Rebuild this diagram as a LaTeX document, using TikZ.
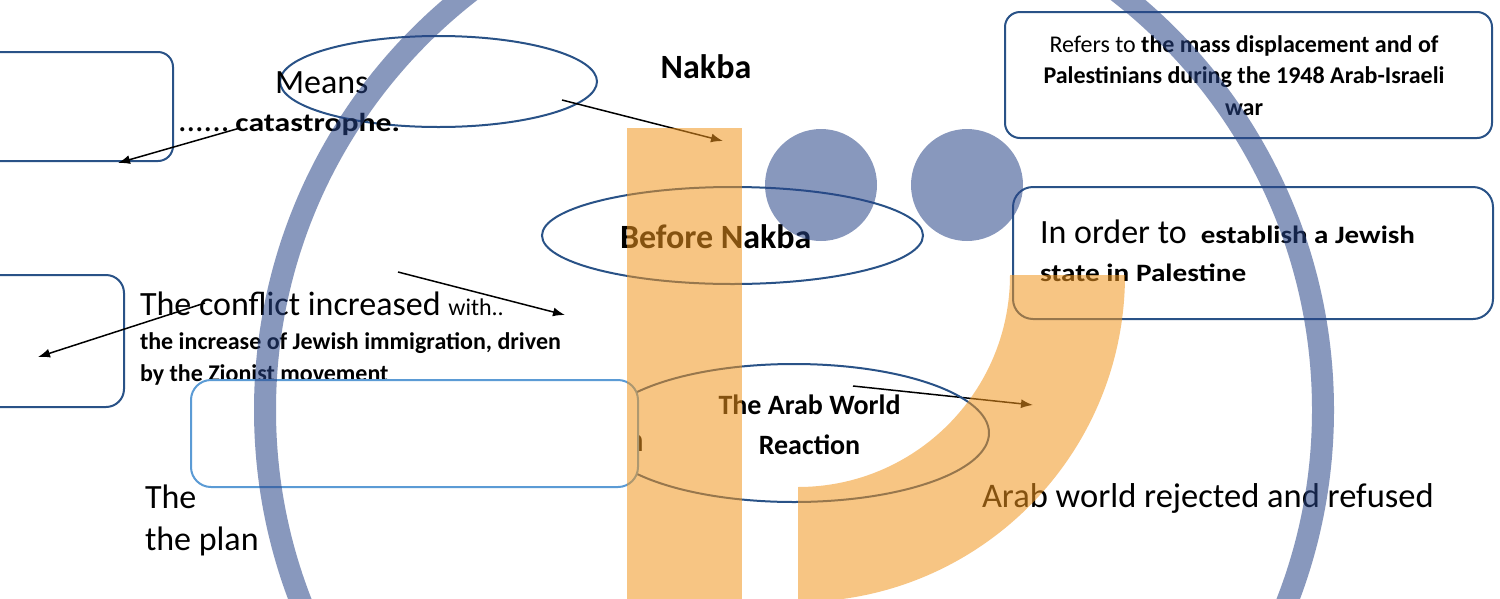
\documentclass[tikz,border=0pt]{standalone}
\usepackage{fontspec}
\setmainfont{Carlito}
\usetikzlibrary{shapes.geometric,arrows.meta}
\definecolor{boxblue}{RGB}{41,82,135}
\definecolor{lightbox}{RGB}{91,155,213}
\definecolor{ringblue}{RGB}{40,68,135}
\definecolor{orng}{RGB}{242,150,30}
\newcommand{\fs}[1]{\fontsize{#1}{#1}\selectfont}
\begin{document}
\begin{tikzpicture}[x=1pt,y=-1pt,
  darkbox/.style={draw=boxblue, line width=2pt, rounded corners=#1, inner sep=0pt},
  darkbox/.default=15pt,
  ell/.style={ellipse, draw=boxblue, line width=2pt, inner sep=0pt},
  txt/.style={inner sep=0pt, outer sep=0pt, text=black},
  conn/.style={draw=black, line width=1.5pt, -{Latex[length=12pt,width=9pt]}},
  overlayorange/.style={fill=orng, fill opacity=.55},
  overlayblue/.style={fill=ringblue, fill opacity=.55}]
\useasboundingbox (0,0) rectangle (1500,598);
\clip (0,0) rectangle (1500,598);
\fill[white] (0,0) rectangle (1500,598);

% boxes
\node[darkbox=15pt, minimum width=203pt, minimum height=109pt] (lbox1) at (71.5,106.5) {};
\node[darkbox=18pt, minimum width=164pt, minimum height=132pt] (lbox2) at (42,341) {};
\node[darkbox=15pt, minimum width=487pt, minimum height=126pt] (rbox) at (1248.5,75) {};
\node[darkbox=20pt, minimum width=480pt, minimum height=132pt] (obox) at (1253,253) {};

% ellipses
\node[ell, minimum width=317pt, minimum height=91pt] (meansell) at (438.5,81.5) {};
\node[ell, minimum width=381pt, minimum height=97pt] (beforeell) at (732.5,235.5) {};

% texts
\node[txt, anchor=base west] (means) at (275,93) {\fs{34}Means};
\node[txt, anchor=base west] (cat) at (178,131) {\fs{34}......\hspace{6pt}\scalebox{1.22}[1]{\fs{26}\bfseries catastrophe.}};
\node[txt, anchor=base] (nakba) at (706,78) {\fs{34}\bfseries Nakba};
\node[txt, anchor=base west] (before) at (620,248) {\fs{34}\bfseries Before Nakba};

\node[txt, anchor=base] (r1) at (1244,52) {\fs{24}Refers to \textbf{the mass displacement and of}};
\node[txt, anchor=base] (r2) at (1244,83) {\fs{24}\bfseries Palestinians during the 1948 Arab-Israeli};
\node[txt, anchor=base] (r3) at (1244,115) {\fs{24}\bfseries war};

\node[txt, anchor=base west] (o1) at (1040,243) {\fs{34}In order to\hspace{14pt}\scalebox{1.16}[1]{\fs{25}\bfseries establish a Jewish}};
\node[txt, anchor=base west] (o2) at (1040,281) {\scalebox{1.17}[1]{\fs{25}\bfseries state in Palestine}};

\node[txt, anchor=base west] (c1) at (140,315) {\fs{34}The conflict increased \fs{24}with..};
\node[txt, anchor=base west] (c2) at (140,349) {\fs{24}\bfseries the increase of Jewish immigration, driven};
\node[txt, anchor=base west] (c3) at (140,381) {\fs{24}\bfseries by the Zionist movement};

\node[txt, anchor=base west] (rej) at (982,507) {\fs{34.5}Arab world rejected and refused};

% arrows
\coordinate (s1) at (240,128); \coordinate (e1) at (118,163);
\coordinate (s2) at (562,100); \coordinate (e2) at (723,141);
\coordinate (s3) at (205,303); \coordinate (e3) at (38,357);
\coordinate (s4) at (398,272); \coordinate (e4) at (565,315);
\coordinate (s5) at (853,386); \coordinate (e5) at (1033,405);
\draw[conn] (s1) -- (e1);
\draw[conn] (s2) -- (e2);
\draw[conn] (s3) -- (e3);
\draw[conn] (s4) -- (e4);
\draw[conn] (s5) -- (e5);

% Arab world reaction
\node[ell, minimum width=390pt, minimum height=138pt] (arabell) at (794,433) {};
\node[txt, anchor=base] (a1) at (809.5,414) {\fs{28}\bfseries The Arab World};
\node[txt, anchor=base] (a2) at (809.5,454) {\fs{28}\bfseries Reaction};
\node[txt, anchor=base east] (frag) at (644,451) {\fs{34}n};

% light box (white, covers text below)
\node[draw=lightbox, line width=2pt, fill=white, rounded corners=20pt, minimum width=447pt, minimum height=107pt, inner sep=0pt] (plan) at (414.5,433.5) {};
\node[txt, anchor=base west] (t1) at (145,508) {\fs{34}The};
\node[txt, anchor=base west] (t2) at (145,550) {\fs{34}the plan};

% overlay shapes
\fill[overlayorange] (627,128) rectangle (742,610);
\fill[overlayorange] (1010,275) -- (1125,275) arc[start angle=0, end angle=90, radius=327] -- (798,487) arc[start angle=90, end angle=0, radius=212] -- cycle;
\draw[ringblue, draw opacity=.55, line width=22pt] (794,410) circle[radius=529];
\fill[overlayblue] (821,185) circle[radius=56];
\fill[overlayblue] (967,185) circle[radius=56];
\end{tikzpicture}
\end{document}
